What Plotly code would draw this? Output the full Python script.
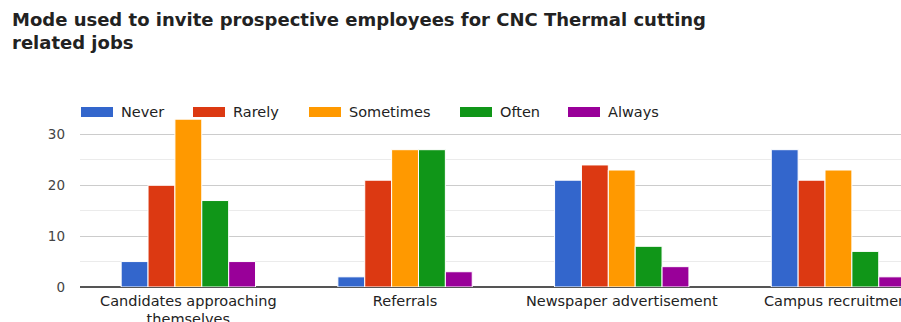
import plotly.graph_objects as go

# Survey responses: how often each mode is used to invite prospective employees
categories = ["Candidates approaching themselves", "Referrals",
              "Newspaper advertisement", "Campus recruitment"]
tick_labels = ["Candidates approaching<br>themselves", "Referrals",
               "Newspaper advertisement", "Campus recruitment"]
series_names = ["Never", "Rarely", "Sometimes", "Often", "Always"]
never = [5, 2, 21, 27]
rarely = [20, 21, 24, 21]
sometimes = [33, 27, 23, 23]
often = [17, 27, 8, 7]
always = [5, 3, 4, 2]
series_values = [never, rarely, sometimes, often, always]
colors = ["#3366cc", "#dc3912", "#ff9900", "#109618", "#990099"]

W, H = 901, 322
ML, MR, MT, MB = 80, 0, 109, 35
PW, PH = W - ML - MR, H - MT - MB
FONT = "DejaVu Sans"


def px_x(x):
    return (x - ML) / PW


def px_y(y):
    return (H - MB - y) / PH


fig = go.Figure()
for name, vals, col in zip(series_names, series_values, colors):
    fig.add_trace(go.Bar(
        x=categories, y=vals, name=name,
        marker=dict(color=col, line=dict(color="white", width=1)),
        showlegend=False,
    ))

# Legend row drawn across the top of the plot area
legend_x = [81, 193, 309, 460, 568]
sw_w, sw_top, sw_bot, leg_mid = 32, 107, 117, 112
for name, col, lx in zip(series_names, colors, legend_x):
    fig.add_shape(type="rect", xref="paper", yref="paper",
                  x0=px_x(lx), x1=px_x(lx + sw_w),
                  y0=px_y(sw_bot), y1=px_y(sw_top),
                  fillcolor=col, line=dict(width=0), layer="above")
    fig.add_annotation(text=name, xref="paper", yref="paper",
                       x=px_x(lx + sw_w + 6), y=px_y(leg_mid),
                       xanchor="left", yanchor="middle", showarrow=False,
                       bgcolor="white", borderpad=1,
                       font=dict(family=FONT, size=14.5, color="#222222"))

fig.update_layout(
    width=W, height=H, autosize=False,
    margin=dict(l=ML, r=MR, t=MT, b=MB, pad=0),
    paper_bgcolor="white", plot_bgcolor="white",
    barmode="group", bargap=0.38, bargroupgap=0,
    title=dict(
        text="Mode used to invite prospective employees for CNC Thermal cutting<br>related jobs",
        xref="container", yref="container", x=12 / W, xanchor="left",
        y=1 - 26 / H, yanchor="top",
        font=dict(family=FONT, size=18, color="#222222", weight="bold"),
    ),
    xaxis=dict(
        type="category", range=[-0.5, -0.5 + PW / 216.7],
        tickvals=categories, ticktext=tick_labels,
        ticks="", showgrid=False, showline=False, automargin=False,
        ticklabelstandoff=3,
        tickfont=dict(family=FONT, size=14.5, color="#222222"),
    ),
    yaxis=dict(
        range=[0, 35], tickvals=[0, 10, 20, 30],
        showgrid=True, gridcolor="#cccccc", gridwidth=1,
        minor=dict(dtick=5, showgrid=True, gridcolor="#ebebeb", gridwidth=1),
        zeroline=True, zerolinecolor="#555555", zerolinewidth=1.5,
        ticks="", ticklabelstandoff=14, automargin=False,
        tickfont=dict(family=FONT, size=13.5, color="#444444"),
    ),
)

fig.write_html("out.html")
